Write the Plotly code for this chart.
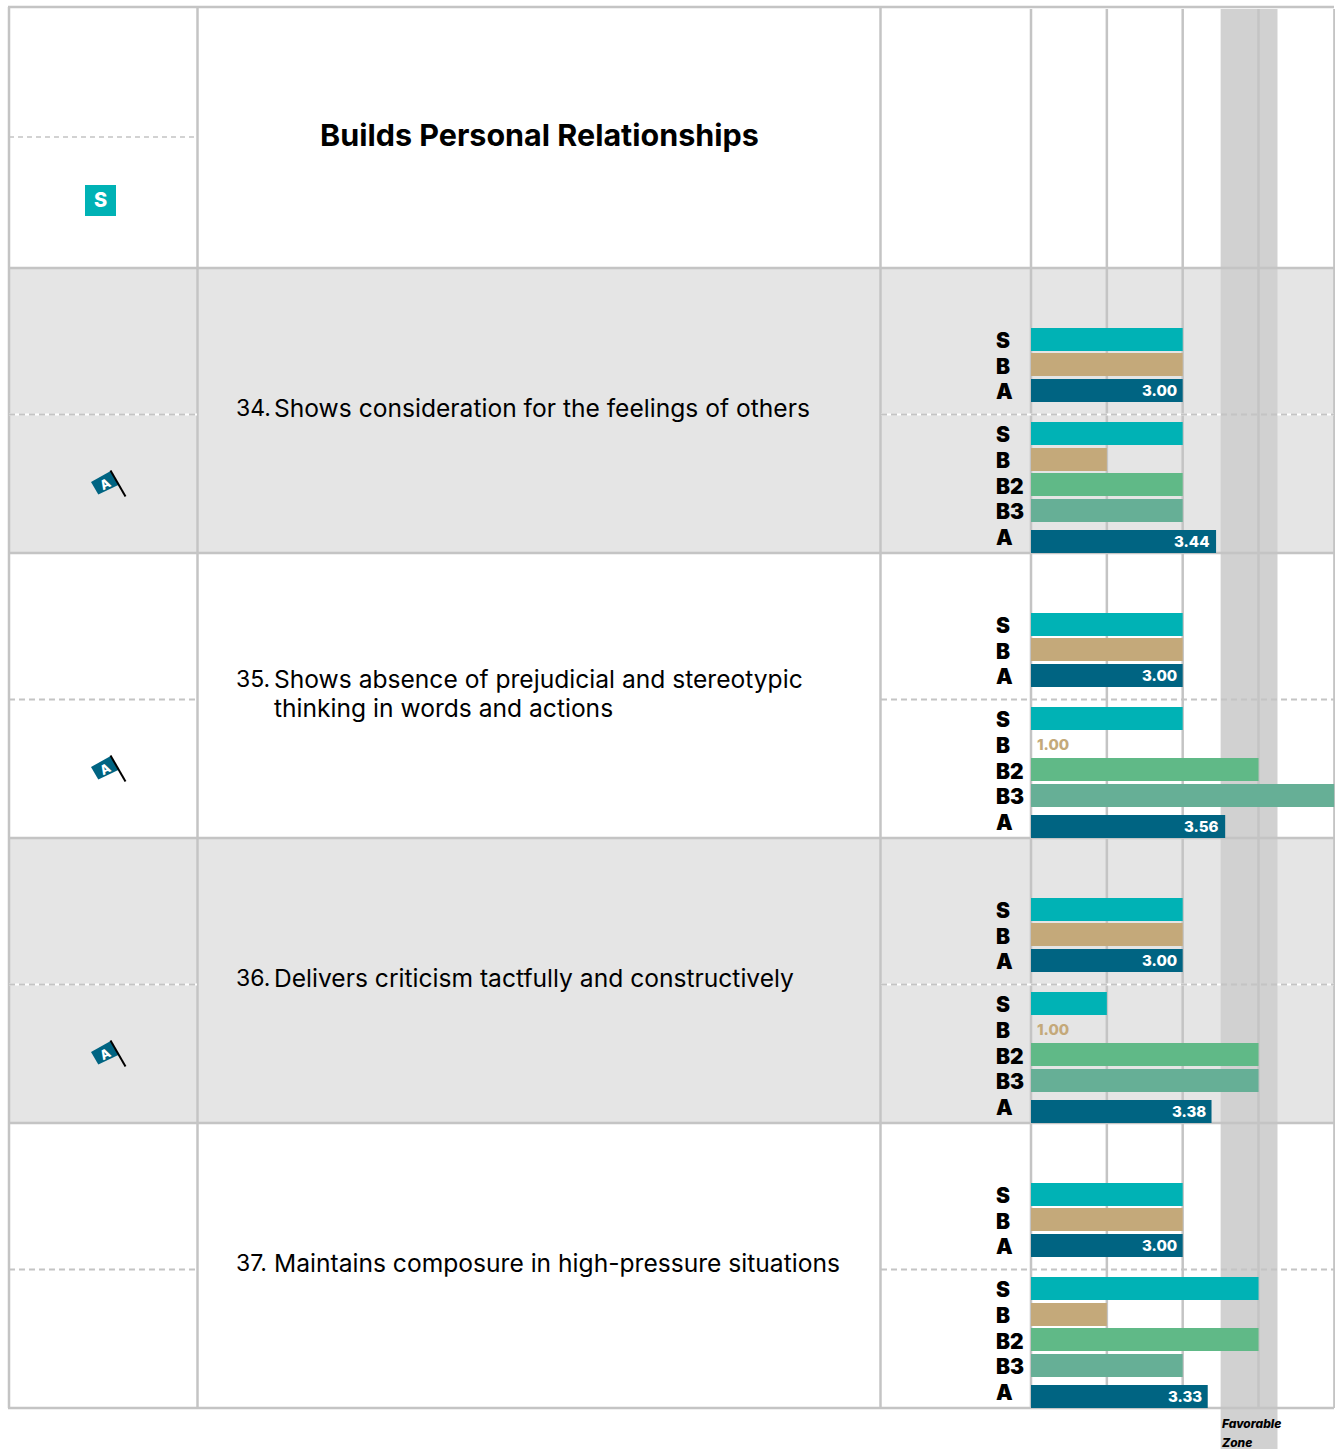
import plotly.graph_objects as go

# ---- data ----
item_numbers = ["34.", "35.", "36.", "37."]
item_lines = [
    ["Shows consideration for the feelings of others"],
    ["Shows absence of prejudicial and stereotypic", "thinking in words and actions"],
    ["Delivers criticism tactfully and constructively"],
    ["Maintains composure in high-pressure situations"],
]
title = "Builds Personal Relationships"
upper_labels = ["S", "B", "A"]
lower_labels = ["S", "B", "B2", "B3", "A"]
upper_values = [
    [3, 3, 3.00],
    [3, 3, 3.00],
    [3, 3, 3.00],
    [3, 3, 3.00],
]
lower_values = [
    [3, 2, 3, 3, 3.44],
    [3, 1, 4, 5, 3.56],
    [2, 1, 4, 4, 3.38],
    [4, 2, 4, 3, 3.33],
]
flagged = [True, True, True, False]
shaded = [True, False, True, False]
zone = [3.5, 4.25]
ticks = [1, 2, 3, 4, 5]

# ---- style / layout ----
W, H = 1335, 1449
FONT = "Inter"
COL = {"S": "#00B2B5", "B": "#C4A97A", "B2": "#60B987", "B3": "#66AF96", "A": "#006482"}
LINE = "#C4C4C4"
ROW0, PERIOD = 269, 285
UP_C = [339.5, 364.5, 390.5]
LO_C = [433.5, 459.5, 484.5, 510.5, 541.5]
LAB_UP = [340, 366, 391]
LAB_LO = [434, 460, 486, 511, 537]
X0, X1 = 1031, 1334.4
BAR_H = 23


def yoff(i):
    return i * PERIOD


def to_px(v):
    """Page position of a score on the value axis (same scale as xaxis2)."""
    return X0 + (v - ticks[0]) * (X1 - X0) / (ticks[-1] - ticks[0])


fig = go.Figure()
shapes, ann = [], []


def rect(x0, x1, y0, y1, color):
    shapes.append(dict(type="rect", xref="x", yref="y", x0=x0, x1=x1, y0=y0, y1=y1,
                       fillcolor=color, line_width=0, layer="below"))


def line(x0, x1, y0, y1, color=LINE, w=2, dash=None):
    shapes.append(dict(type="line", xref="x", yref="y", x0=x0, x1=x1, y0=y0, y1=y1,
                       line=dict(color=color, width=w, dash=dash or "solid"), layer="below"))


def text(x, y, s, size, color="#000", weight=400, italic=False, anchor="left", angle=0, xref="x", xshift=0):
    ann.append(dict(x=x, y=y, xref=xref, yref="y", text=s, showarrow=False, xanchor=anchor, yanchor="middle",
                    textangle=angle, xshift=xshift,
                    font=dict(family=FONT, size=size, color=color, weight=weight,
                              style="italic" if italic else "normal")))


# row shading
for i, s in enumerate(shaded):
    if s:
        rect(9, 1334, ROW0 + i * PERIOD, ROW0 + (i + 1) * PERIOD - 1, "#E5E5E5")

# favorable zone
zx0, zx1 = to_px(zone[0]), to_px(zone[1])
rect(zx0, zx1, 9, H, "#D1D1D1")

# axis grid lines
for t in ticks:
    line(to_px(t), to_px(t), 9, 1408, w=2.5)

# table lines
for x in [9, 197.5, 880.5]:
    line(x, x, 7, 1408, w=2.5)
for k in range(6):
    y = 268 + k * PERIOD
    line(8, 1334, y, y, w=2.5)
line(8, 1334, 7, 7, w=2.5)

# dashed mid-lines
line(9, 197, 137, 137, w=1.5, dash="5px,4px")
for i in range(4):
    y = 414.5 + i * PERIOD
    if shaded[i]:
        for xa, xb in [(9, 197), (881, zx0), (zx1, 1334)]:
            line(xa, xb, y, y, color="#FFFFFF", w=2)
    for xa, xb in [(9, 197), (881, 1334)]:
        line(xa, xb, y, y, w=2, dash="6px,4px")


def add_bars(name, ys, values):
    fig.add_trace(go.Bar(y=ys, x=[v - 1 for v in values], base=1, orientation="h", width=BAR_H,
                         xaxis="x2", yaxis="y", marker=dict(color=COL[name], line_width=0),
                         cliponaxis=False, hoverinfo="skip"))


# bars
for n, name in enumerate(upper_labels):
    ys = [UP_C[n] + yoff(i) for i in range(4)]
    vals = [upper_values[i][n] for i in range(4)]
    add_bars(name, ys, vals)
    if name == "A":
        for y, v in zip(ys, vals):
            text(v, y, f"{v:.2f}", 15, color="#fff", weight=800, anchor="right", xref="x2", xshift=-4)
for n, name in enumerate(lower_labels):
    ys = [LO_C[n] + yoff(i) for i in range(4)]
    vals = [lower_values[i][n] for i in range(4)]
    add_bars(name, ys, vals)
    for y, v in zip(ys, vals):
        if name == "A":
            text(v, y, f"{v:.2f}", 15, color="#fff", weight=800, anchor="right", xref="x2", xshift=-4)
        elif v == 1:
            text(v, y, f"{v:.2f}", 15, color=COL[name], weight=800, xref="x2", xshift=4)

# bar row letters
for i in range(4):
    for lab, yc in zip(upper_labels, LAB_UP):
        text(994, yc + yoff(i), lab, 21, weight=900)
    for lab, yc in zip(lower_labels, LAB_LO):
        text(994, yc + yoff(i), lab, 21, weight=900)

# item text
text(539, 134, title, 30.5, weight=700, anchor="center")
centres = [[408], [679, 708], [978], [1263]]
for i in range(4):
    text(234, centres[i][0], item_numbers[i], 23)
    for ln, yc in zip(item_lines[i], centres[i]):
        text(272, yc, ln, 24.6)

# icons
rect(85, 116, 185, 216, COL["S"])
text(100.5, 200, "S", 20, color="#fff", weight=800, anchor="center")
for i, f in enumerate(flagged):
    if f:
        o = yoff(i)
        shapes.append(dict(type="path", xref="x", yref="y",
                           path=f"M91,{482+o} L110.7,{471+o} L118.3,{485+o} L98.3,{494.5+o} Z",
                           fillcolor=COL["A"], line_width=0, layer="below"))
        line(110.5, 125.5, 470.5 + o, 496.5 + o, color="#000", w=2)
        text(104.5, 483.5 + o, "A", 13, color="#fff", weight=800, anchor="center", angle=-28)

# zone caption
text(1219.5, 1423, "Favorable", 12, weight=800, italic=True)
text(1219.5, 1442, "Zone", 12, weight=800, italic=True)

fig.update_layout(
    width=W, height=H, margin=dict(l=0, r=0, t=0, b=0), autosize=False,
    paper_bgcolor="#fff", plot_bgcolor="rgba(0,0,0,0)", showlegend=False, barmode="overlay",
    shapes=shapes, annotations=ann,
    xaxis=dict(domain=[0, 1], range=[0, W], visible=False, fixedrange=True),
    xaxis2=dict(domain=[X0 / W, X1 / W], range=[ticks[0], ticks[-1]], visible=False, fixedrange=True, anchor="y"),
    yaxis=dict(domain=[0, 1], range=[H, 0], visible=False, fixedrange=True),
)
fig.write_html("out.html", config=dict(displayModeBar=False),
               post_script="document.body.style.margin='0';document.body.style.overflow='hidden';")
